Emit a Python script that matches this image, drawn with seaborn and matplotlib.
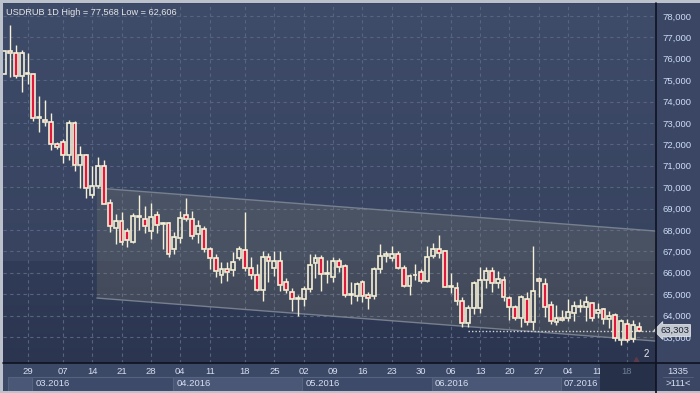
import numpy as np
import pandas as pd
import matplotlib.pyplot as plt
from matplotlib.colors import LinearSegmentedColormap
from matplotlib.patches import Rectangle, Polygon
import seaborn as sns

# USDRUB daily candles
opens = [75.28, 76.36, 76.25, 75.20, 75.28, 75.28, 73.25, 73.13, 73.03, 72.00,
         72.10, 71.49, 72.99, 71.02, 71.49, 69.63, 70.06, 70.98, 69.28, 68.10,
         68.40, 67.95, 67.45, 68.60, 68.53, 67.97, 68.70, 68.28, 68.34, 67.12,
         67.63, 68.72, 68.53, 67.80, 68.06, 67.12, 66.70, 65.90, 66.20, 66.13,
         66.70, 67.08, 66.24, 65.90, 65.20, 66.73, 66.24, 66.57, 65.55, 65.10,
         64.77, 64.77, 65.24, 66.47, 66.67, 65.93, 65.80, 66.57, 66.30, 64.95,
         64.92, 65.55, 64.98, 64.90, 66.18, 66.78, 66.69, 66.87, 66.24, 65.40,
         65.88, 66.06, 65.60, 66.80, 67.12, 67.00, 65.33, 65.30, 64.67, 63.65,
         64.36, 64.36, 65.64, 66.10, 65.53, 65.67, 64.82, 64.38, 63.91, 64.77,
         63.68, 65.72, 65.48, 64.50, 63.68, 63.89, 63.89, 64.10, 64.42, 64.42,
         64.60, 64.10, 64.30, 63.84, 64.03, 62.87, 63.60, 62.92, 63.49]
highs = [76.36, 77.57, 76.64, 76.40, 76.25, 75.30, 74.26, 74.07, 73.45, 72.10,
         72.25, 73.13, 73.10, 71.93, 71.54, 71.00, 71.40, 71.27, 69.43, 68.73,
         68.86, 68.10, 68.78, 69.65, 69.10, 69.27, 68.90, 68.38, 68.38, 67.90,
         68.90, 69.50, 68.87, 68.45, 68.20, 67.20, 66.90, 66.50, 66.50, 66.97,
         67.27, 68.86, 66.75, 66.42, 67.00, 66.92, 67.00, 67.04, 65.74, 65.28,
         64.98, 65.40, 66.88, 66.88, 66.81, 66.60, 66.76, 66.70, 66.40, 65.57,
         65.57, 65.64, 65.10, 66.25, 67.35, 67.00, 67.27, 67.00, 66.35, 65.95,
         66.42, 66.17, 67.27, 67.40, 67.75, 67.07, 66.00, 65.55, 64.85, 64.50,
         65.60, 66.26, 66.29, 66.26, 66.07, 65.87, 64.93, 64.50, 64.97, 65.08,
         67.27, 65.80, 65.75, 64.70, 64.50, 64.26, 64.77, 64.70, 64.77, 64.90,
         64.65, 64.60, 64.37, 64.20, 64.10, 63.84, 63.84, 63.80, 63.72]
lows = [75.28, 75.14, 75.11, 74.45, 74.80, 73.10, 72.60, 72.87, 71.74, 71.80,
        71.15, 71.27, 70.77, 69.98, 69.48, 69.51, 69.95, 69.20, 67.92, 67.33,
        67.30, 67.22, 67.40, 68.00, 67.85, 67.60, 67.85, 67.10, 66.72, 66.90,
        67.40, 68.42, 67.56, 67.38, 66.97, 66.20, 65.80, 65.50, 65.60, 65.87,
        66.60, 66.10, 65.70, 65.13, 64.67, 65.57, 65.87, 65.17, 65.04, 64.20,
        64.00, 64.46, 65.10, 65.77, 65.17, 65.50, 65.57, 66.02, 64.85, 64.55,
        64.70, 64.63, 64.30, 64.77, 65.97, 66.50, 66.54, 66.19, 65.35, 64.95,
        65.64, 65.50, 65.55, 66.67, 66.67, 65.33, 65.04, 64.50, 63.48, 63.48,
        64.07, 64.14, 65.30, 65.10, 65.30, 64.70, 63.80, 63.80, 63.48, 63.57,
        63.32, 64.85, 63.95, 63.60, 63.57, 63.73, 63.73, 63.73, 64.15, 63.73,
        63.76, 63.90, 63.60, 63.40, 62.80, 62.61, 62.77, 62.77, 63.26]
closes = [76.36, 76.27, 75.20, 76.25, 75.32, 73.22, 73.28, 73.03, 72.00, 71.86,
          71.50, 72.99, 71.02, 71.49, 69.98, 70.04, 70.98, 69.21, 68.17, 68.40,
          67.45, 67.53, 68.67, 68.62, 68.20, 68.60, 68.25, 68.32, 66.90, 67.67,
          68.57, 68.53, 67.70, 68.20, 67.12, 66.70, 66.10, 66.20, 66.05, 66.52,
          67.12, 66.24, 65.90, 65.20, 66.75, 66.57, 66.57, 65.45, 65.20, 64.77,
          64.79, 65.24, 66.36, 66.70, 65.95, 65.98, 66.54, 66.26, 64.95, 64.97,
          65.48, 64.90, 64.83, 66.20, 66.79, 66.87, 66.88, 66.24, 65.40, 65.83,
          65.92, 65.60, 66.75, 67.12, 66.93, 65.33, 65.35, 64.67, 63.65, 64.37,
          65.53, 65.64, 66.10, 65.53, 65.72, 64.89, 64.42, 63.91, 64.85, 63.68,
          65.13, 65.60, 64.38, 63.73, 63.89, 63.80, 64.18, 64.46, 64.44, 64.65,
          63.89, 64.26, 63.84, 64.00, 62.95, 63.73, 62.87, 63.56, 63.303]

day_pos = [4, 10, 15, 20, 25, 30, 35, 41, 46, 51, 56, 61, 66, 71, 76, 81, 86, 91, 96, 101, 106]
day_labels = ['29', '07', '14', '21', '28', '04', '11', '18', '25', '02', '09',
              '16', '23', '30', '06', '13', '20', '27', '04', '11', '18']
month_starts = [1, 5, 29, 51, 73, 95]
month_labels = ['', '03.2016', '04.2016', '05.2016', '06.2016', '07.2016']
channel_x = [15.8, 110.94]
channel_top = [69.96, 67.95]
channel_bottom = [64.82, 62.81]
band_level = 66.55
support_start = 79
last_price = 63.303
price_ticks = list(range(63, 79))

df = pd.DataFrame({'open': opens, 'high': highs, 'low': lows, 'close': closes})
df['idx'] = np.arange(len(df))
df['up'] = df['close'] >= df['open']

sns.set_style('dark')
plt.rcParams['font.family'] = ['Liberation Sans', 'DejaVu Sans']

W, H = 700, 393
fig = plt.figure(figsize=(7, 3.93), dpi=100)
fig.patch.set_facecolor('#3a4664')

XMIN, XMAX = -0.17, 110.94
YMIN, YMAX = 61.785, 78.56
ax = fig.add_axes([3 / W, 30 / H, 653 / W, 359 / H])
ax.set_xlim(XMIN, XMAX)
ax.set_ylim(YMIN, YMAX)

# background: two gradient bands split at band_level
upper = LinearSegmentedColormap.from_list('up', ['#37435f', '#3e4b69'])
lower = LinearSegmentedColormap.from_list('lo', ['#2b3550', '#313c58'])
grad = np.linspace(0, 1, 128).reshape(-1, 1)
ax.imshow(grad, extent=[XMIN, XMAX, band_level, YMAX], origin='lower', aspect='auto', cmap=upper, zorder=0)
ax.imshow(grad, extent=[XMIN, XMAX, YMIN, band_level], origin='lower', aspect='auto', cmap=lower, zorder=0)

# grid
for p in price_ticks:
    ax.axhline(p, color='#56647f', lw=0.8, ls=(0, (3, 3)), zorder=1)
for d in day_pos:
    ax.axvline(d, color='#56647f', lw=0.8, ls=(0, (3, 3)), zorder=1)

# channel
chan = Polygon([(channel_x[0], channel_top[0]), (channel_x[1], channel_top[1]),
                (channel_x[1], channel_bottom[1]), (channel_x[0], channel_bottom[0])],
               closed=True, facecolor='#8c8a74', alpha=0.22, edgecolor='none', zorder=2)
ax.add_patch(chan)
ax.plot(channel_x, channel_top, color='#77808f', lw=1.0, zorder=2)
ax.plot(channel_x, channel_bottom, color='#77808f', lw=1.0, zorder=2)

# support line at last price
ax.plot([support_start, XMAX], [last_price, last_price], color='#d8d8d8', lw=1.0,
        ls=(0, (1, 1.5)), zorder=3)

# candles
cream = '#f4efd6'
red = '#e2173d'
bw = 0.66
for r in df.itertuples():
    top = max(r.open, r.close)
    bot = min(r.open, r.close)
    ax.vlines(r.idx, top, r.high, color=cream, lw=1.0, zorder=4)
    ax.vlines(r.idx, r.low, bot, color=cream, lw=1.0, zorder=4)
    h = max(top - bot, 0.04)
    ax.bar(r.idx, h, bottom=bot, width=bw, color='none' if r.up else red,
           edgecolor=cream, linewidth=1.2, zorder=5)

ax.set_xticks([])
ax.yaxis.tick_right()
ax.set_yticks(price_ticks)
ax.set_yticklabels([f'{p},000' for p in price_ticks], fontsize=6.8, color='#cddcf6')
ax.tick_params(axis='y', length=0, pad=4.5)
for s in ax.spines.values():
    s.set_visible(False)
ax.grid(False)

ax.text(0.004, 0.988, 'USDRUB 1D High = 77,568 Low = 62,606', transform=ax.transAxes,
        fontsize=6.6, color='#e6e6e6', ha='left', va='top', zorder=6)

# last price tag
ax.annotate(f'{last_price:.3f}'.replace('.', ','), xy=(1.0, last_price),
            xycoords=('axes fraction', 'data'), xytext=(3, 0), textcoords='offset points',
            fontsize=6.8, color='#1c2333', va='center', ha='left', annotation_clip=False,
            bbox=dict(boxstyle='larrow,pad=0.15', fc='#c3c8d0', ec='#e2e4e8', lw=0.6), zorder=7)
ax.text(643.5 / 653, 4 / 359, '2', transform=ax.transAxes, fontsize=7, color='#e8e8e8',
        ha='center', va='bottom', zorder=6)
ax.plot([633 / 653], [3 / 359], marker='^', ms=4, color='#5b3a4c', transform=ax.transAxes, zorder=6)

# date strip
dx = fig.add_axes([3 / W, 0, 653 / W, 30 / H], sharex=ax)
dx.set_ylim(30, 0)
dx.axis('off')
dx.add_patch(Rectangle((XMIN, 0), XMAX - XMIN, 30, facecolor='#3b4866', edgecolor='none', zorder=0))
for d, lab in zip(day_pos, day_labels):
    dx.text(d, 9, lab, fontsize=6.8, color='#d6def0', ha='center', va='center', zorder=3)
ends = month_starts[1:] + [XMAX + 0.25]
for k, (m0, m1, lab) in enumerate(zip(month_starts, ends, month_labels)):
    fc = '#4a5777' if k % 2 == 0 else '#3d4a69'
    dx.add_patch(Rectangle((m0 - 0.25, 14), m1 - m0, 14, facecolor=fc, edgecolor='#56637f',
                           lw=0.8, zorder=1))
    if lab:
        dx.text(m0 + 0.3, 20.5, lab, fontsize=6.8, color='#d6def0', ha='left', va='center', zorder=3)
dx.add_patch(Rectangle((101.45, 0.5), XMAX - 101.45, 28, facecolor='#263049', edgecolor='none', zorder=4))
dx.text(day_pos[-1], 9, day_labels[-1], fontsize=6.8, color='#6f7d96', ha='center', va='center', zorder=5)

# frame lines and corner box
fig.add_artist(plt.Line2D([656 / W, 656 / W], [0, 1 - 3 / H], color='#0e1320', lw=1.2))
fig.add_artist(plt.Line2D([3 / W, 1], [30 / H, 30 / H], color='#0e1320', lw=1.2))
fig.add_artist(Rectangle((0, 0), 3 / W, 1, transform=fig.transFigure, facecolor='#bcc2cc', edgecolor='none'))
fig.add_artist(Rectangle((0, 1 - 3 / H), 1, 3 / H, transform=fig.transFigure, facecolor='#bcc2cc', edgecolor='none'))
fig.add_artist(Rectangle((0, 0), 1, 2 / H, transform=fig.transFigure, facecolor='#bcc2cc', edgecolor='none'))
fig.text(678 / W, 1 - 371 / H, '1335', fontsize=6.8, color='#d6def0', ha='center', va='center')
fig.add_artist(plt.Line2D([663 / W, 693 / W], [1 - 377 / H, 1 - 377 / H], color='#56637f', lw=0.6))
fig.text(678 / W, 1 - 384 / H, '>111<', fontsize=6.8, color='#d6def0', ha='center', va='center')

fig.savefig('out.png', dpi=100, facecolor=fig.get_facecolor())
